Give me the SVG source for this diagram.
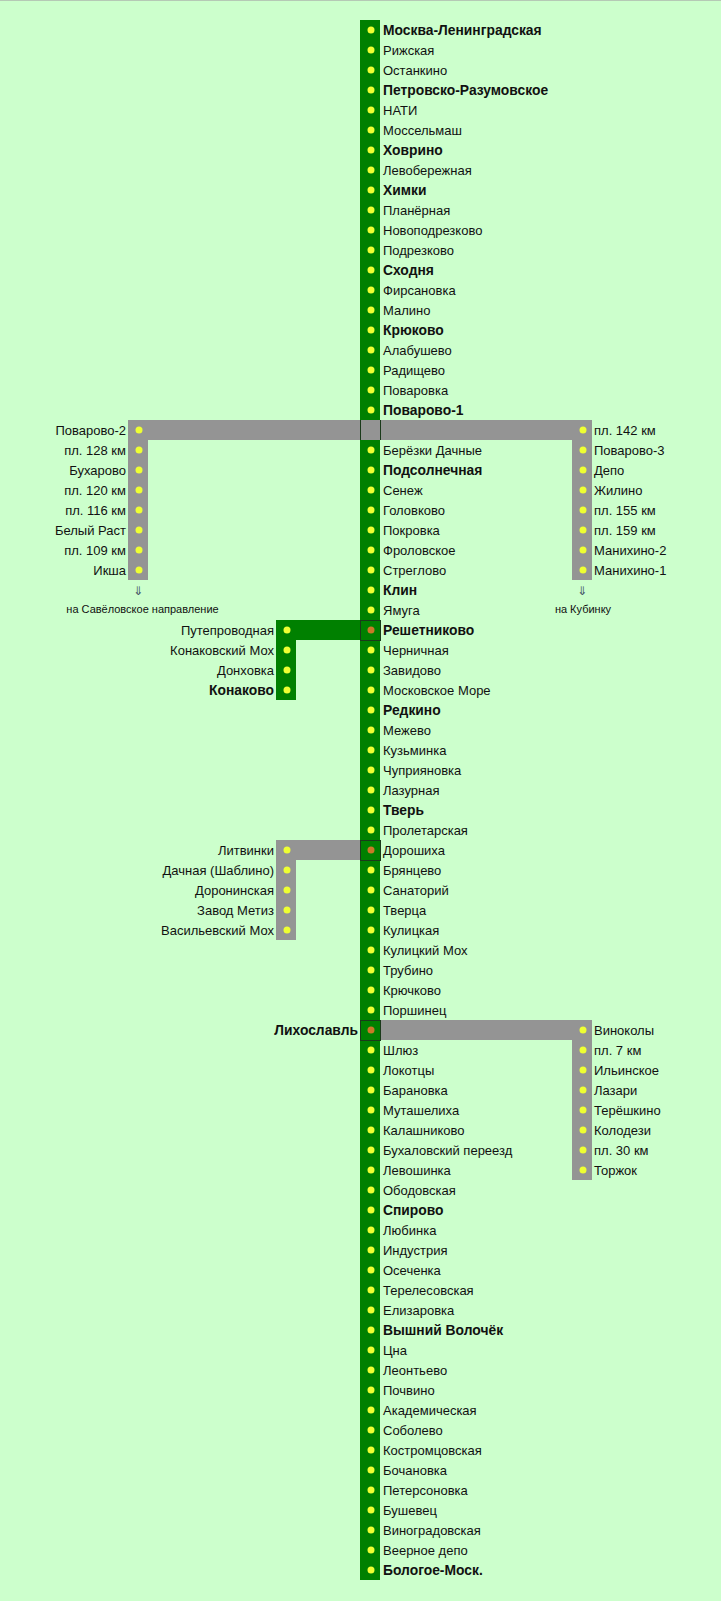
<svg xmlns="http://www.w3.org/2000/svg" width="721" height="1601" viewBox="0 0 721 1601">
<style>
text{font-family:"Liberation Sans",Arial,sans-serif;font-size:13px;fill:#111}
.b{font-weight:bold;font-size:13.850px}
.r{text-anchor:end}
.s{font-size:11px;text-anchor:middle}
.a{font-family:"DejaVu Sans",sans-serif;font-size:12px;text-anchor:middle;fill:#456}
.d{fill:#eeff33}
.o{fill:#c87a28}
.g{fill:#949494}
.m{fill:#008000}
.x{stroke:#1a3a1a;stroke-width:1}
</style>
<rect width="721" height="1601" fill="#ccffcc"/>
<rect width="721" height="1" fill="#b5c9b5"/>
<g id="connectors">
<rect class="m" x="360" y="20" width="20" height="1560"/>
<path class="g" d="M128 420H592V580H572V440H148V580H128Z"/>
<path class="m" d="M276 620H360V640H296V700H276Z"/>
<path class="g" d="M276 840H360V860H296V940H276Z"/>
<path class="g" d="M380 1020H592V1180H572V1040H380Z"/>
<path class="x" fill="none" d="M360.500 420V440M380.500 420V440"/>
<rect class="x m" x="360.500" y="620.500" width="20" height="20"/>
<rect class="x m" x="360.500" y="840.500" width="20" height="20"/>
<rect class="x m" x="360.500" y="1020.500" width="20" height="20"/>
</g>
<g id="n1"><circle class="d" cx="371" cy="30" r="3.500"/><text class="b" x="383" y="35">Москва-Ленинградская</text></g>
<g id="n2"><circle class="d" cx="371" cy="50" r="3.500"/><text x="383" y="55">Рижская</text></g>
<g id="n3"><circle class="d" cx="371" cy="70" r="3.500"/><text x="383" y="75">Останкино</text></g>
<g id="n4"><circle class="d" cx="371" cy="90" r="3.500"/><text class="b" x="383" y="95">Петровско-Разумовское</text></g>
<g id="n5"><circle class="d" cx="371" cy="110" r="3.500"/><text x="383" y="115">НАТИ</text></g>
<g id="n6"><circle class="d" cx="371" cy="130" r="3.500"/><text x="383" y="135">Моссельмаш</text></g>
<g id="n7"><circle class="d" cx="371" cy="150" r="3.500"/><text class="b" x="383" y="155">Ховрино</text></g>
<g id="n8"><circle class="d" cx="371" cy="170" r="3.500"/><text x="383" y="175">Левобережная</text></g>
<g id="n9"><circle class="d" cx="371" cy="190" r="3.500"/><text class="b" x="383" y="195">Химки</text></g>
<g id="n10"><circle class="d" cx="371" cy="210" r="3.500"/><text x="383" y="215">Планёрная</text></g>
<g id="n11"><circle class="d" cx="371" cy="230" r="3.500"/><text x="383" y="235">Новоподрезково</text></g>
<g id="n12"><circle class="d" cx="371" cy="250" r="3.500"/><text x="383" y="255">Подрезково</text></g>
<g id="n13"><circle class="d" cx="371" cy="270" r="3.500"/><text class="b" x="383" y="275">Сходня</text></g>
<g id="n14"><circle class="d" cx="371" cy="290" r="3.500"/><text x="383" y="295">Фирсановка</text></g>
<g id="n15"><circle class="d" cx="371" cy="310" r="3.500"/><text x="383" y="315">Малино</text></g>
<g id="n16"><circle class="d" cx="371" cy="330" r="3.500"/><text class="b" x="383" y="335">Крюково</text></g>
<g id="n17"><circle class="d" cx="371" cy="350" r="3.500"/><text x="383" y="355">Алабушево</text></g>
<g id="n18"><circle class="d" cx="371" cy="370" r="3.500"/><text x="383" y="375">Радищево</text></g>
<g id="n19"><circle class="d" cx="371" cy="390" r="3.500"/><text x="383" y="395">Поваровка</text></g>
<g id="n20"><circle class="d" cx="371" cy="410" r="3.500"/><text class="b" x="383" y="415">Поварово-1</text></g>
<g id="n21"><circle class="d" cx="371" cy="450" r="3.500"/><text x="383" y="455">Берёзки Дачные</text></g>
<g id="n22"><circle class="d" cx="371" cy="470" r="3.500"/><text class="b" x="383" y="475">Подсолнечная</text></g>
<g id="n23"><circle class="d" cx="371" cy="490" r="3.500"/><text x="383" y="495">Сенеж</text></g>
<g id="n24"><circle class="d" cx="371" cy="510" r="3.500"/><text x="383" y="515">Головково</text></g>
<g id="n25"><circle class="d" cx="371" cy="530" r="3.500"/><text x="383" y="535">Покровка</text></g>
<g id="n26"><circle class="d" cx="371" cy="550" r="3.500"/><text x="383" y="555">Фроловское</text></g>
<g id="n27"><circle class="d" cx="371" cy="570" r="3.500"/><text x="383" y="575">Стреглово</text></g>
<g id="n28"><circle class="d" cx="371" cy="590" r="3.500"/><text class="b" x="383" y="595">Клин</text></g>
<g id="n29"><circle class="d" cx="371" cy="610" r="3.500"/><text x="383" y="615">Ямуга</text></g>
<g id="n30"><circle class="o" cx="371" cy="630" r="3.500"/><text class="b" x="383" y="635">Решетниково</text></g>
<g id="n31"><circle class="d" cx="371" cy="650" r="3.500"/><text x="383" y="655">Черничная</text></g>
<g id="n32"><circle class="d" cx="371" cy="670" r="3.500"/><text x="383" y="675">Завидово</text></g>
<g id="n33"><circle class="d" cx="371" cy="690" r="3.500"/><text x="383" y="695">Московское Море</text></g>
<g id="n34"><circle class="d" cx="371" cy="710" r="3.500"/><text class="b" x="383" y="715">Редкино</text></g>
<g id="n35"><circle class="d" cx="371" cy="730" r="3.500"/><text x="383" y="735">Межево</text></g>
<g id="n36"><circle class="d" cx="371" cy="750" r="3.500"/><text x="383" y="755">Кузьминка</text></g>
<g id="n37"><circle class="d" cx="371" cy="770" r="3.500"/><text x="383" y="775">Чуприяновка</text></g>
<g id="n38"><circle class="d" cx="371" cy="790" r="3.500"/><text x="383" y="795">Лазурная</text></g>
<g id="n39"><circle class="d" cx="371" cy="810" r="3.500"/><text class="b" x="383" y="815">Тверь</text></g>
<g id="n40"><circle class="d" cx="371" cy="830" r="3.500"/><text x="383" y="835">Пролетарская</text></g>
<g id="n41"><circle class="o" cx="371" cy="850" r="3.500"/><text x="383" y="855">Дорошиха</text></g>
<g id="n42"><circle class="d" cx="371" cy="870" r="3.500"/><text x="383" y="875">Брянцево</text></g>
<g id="n43"><circle class="d" cx="371" cy="890" r="3.500"/><text x="383" y="895">Санаторий</text></g>
<g id="n44"><circle class="d" cx="371" cy="910" r="3.500"/><text x="383" y="915">Тверца</text></g>
<g id="n45"><circle class="d" cx="371" cy="930" r="3.500"/><text x="383" y="935">Кулицкая</text></g>
<g id="n46"><circle class="d" cx="371" cy="950" r="3.500"/><text x="383" y="955">Кулицкий Мох</text></g>
<g id="n47"><circle class="d" cx="371" cy="970" r="3.500"/><text x="383" y="975">Трубино</text></g>
<g id="n48"><circle class="d" cx="371" cy="990" r="3.500"/><text x="383" y="995">Крючково</text></g>
<g id="n49"><circle class="d" cx="371" cy="1010" r="3.500"/><text x="383" y="1015">Поршинец</text></g>
<g id="n50"><circle class="o" cx="371" cy="1030" r="3.500"/><text class="b r" x="358" y="1035">Лихославль</text></g>
<g id="n51"><circle class="d" cx="371" cy="1050" r="3.500"/><text x="383" y="1055">Шлюз</text></g>
<g id="n52"><circle class="d" cx="371" cy="1070" r="3.500"/><text x="383" y="1075">Локотцы</text></g>
<g id="n53"><circle class="d" cx="371" cy="1090" r="3.500"/><text x="383" y="1095">Барановка</text></g>
<g id="n54"><circle class="d" cx="371" cy="1110" r="3.500"/><text x="383" y="1115">Муташелиха</text></g>
<g id="n55"><circle class="d" cx="371" cy="1130" r="3.500"/><text x="383" y="1135">Калашниково</text></g>
<g id="n56"><circle class="d" cx="371" cy="1150" r="3.500"/><text x="383" y="1155">Бухаловский переезд</text></g>
<g id="n57"><circle class="d" cx="371" cy="1170" r="3.500"/><text x="383" y="1175">Левошинка</text></g>
<g id="n58"><circle class="d" cx="371" cy="1190" r="3.500"/><text x="383" y="1195">Ободовская</text></g>
<g id="n59"><circle class="d" cx="371" cy="1210" r="3.500"/><text class="b" x="383" y="1215">Спирово</text></g>
<g id="n60"><circle class="d" cx="371" cy="1230" r="3.500"/><text x="383" y="1235">Любинка</text></g>
<g id="n61"><circle class="d" cx="371" cy="1250" r="3.500"/><text x="383" y="1255">Индустрия</text></g>
<g id="n62"><circle class="d" cx="371" cy="1270" r="3.500"/><text x="383" y="1275">Осеченка</text></g>
<g id="n63"><circle class="d" cx="371" cy="1290" r="3.500"/><text x="383" y="1295">Терелесовская</text></g>
<g id="n64"><circle class="d" cx="371" cy="1310" r="3.500"/><text x="383" y="1315">Елизаровка</text></g>
<g id="n65"><circle class="d" cx="371" cy="1330" r="3.500"/><text class="b" x="383" y="1335">Вышний Волочёк</text></g>
<g id="n66"><circle class="d" cx="371" cy="1350" r="3.500"/><text x="383" y="1355">Цна</text></g>
<g id="n67"><circle class="d" cx="371" cy="1370" r="3.500"/><text x="383" y="1375">Леонтьево</text></g>
<g id="n68"><circle class="d" cx="371" cy="1390" r="3.500"/><text x="383" y="1395">Почвино</text></g>
<g id="n69"><circle class="d" cx="371" cy="1410" r="3.500"/><text x="383" y="1415">Академическая</text></g>
<g id="n70"><circle class="d" cx="371" cy="1430" r="3.500"/><text x="383" y="1435">Соболево</text></g>
<g id="n71"><circle class="d" cx="371" cy="1450" r="3.500"/><text x="383" y="1455">Костромцовская</text></g>
<g id="n72"><circle class="d" cx="371" cy="1470" r="3.500"/><text x="383" y="1475">Бочановка</text></g>
<g id="n73"><circle class="d" cx="371" cy="1490" r="3.500"/><text x="383" y="1495">Петерсоновка</text></g>
<g id="n74"><circle class="d" cx="371" cy="1510" r="3.500"/><text x="383" y="1515">Бушевец</text></g>
<g id="n75"><circle class="d" cx="371" cy="1530" r="3.500"/><text x="383" y="1535">Виноградовская</text></g>
<g id="n76"><circle class="d" cx="371" cy="1550" r="3.500"/><text x="383" y="1555">Веерное депо</text></g>
<g id="n77"><circle class="d" cx="371" cy="1570" r="3.500"/><text class="b" x="383" y="1575">Бологое-Моск.</text></g>
<g id="l1"><circle class="d" cx="139" cy="430" r="3.500"/><text class="r" x="126" y="435">Поварово-2</text></g>
<g id="l2"><circle class="d" cx="139" cy="450" r="3.500"/><text class="r" x="126" y="455">пл. 128 км</text></g>
<g id="l3"><circle class="d" cx="139" cy="470" r="3.500"/><text class="r" x="126" y="475">Бухарово</text></g>
<g id="l4"><circle class="d" cx="139" cy="490" r="3.500"/><text class="r" x="126" y="495">пл. 120 км</text></g>
<g id="l5"><circle class="d" cx="139" cy="510" r="3.500"/><text class="r" x="126" y="515">пл. 116 км</text></g>
<g id="l6"><circle class="d" cx="139" cy="530" r="3.500"/><text class="r" x="126" y="535">Белый Раст</text></g>
<g id="l7"><circle class="d" cx="139" cy="550" r="3.500"/><text class="r" x="126" y="555">пл. 109 км</text></g>
<g id="l8"><circle class="d" cx="139" cy="570" r="3.500"/><text class="r" x="126" y="575">Икша</text></g>
<g id="r1"><circle class="d" cx="583" cy="430" r="3.500"/><text x="594" y="435">пл. 142 км</text></g>
<g id="r2"><circle class="d" cx="583" cy="450" r="3.500"/><text x="594" y="455">Поварово-3</text></g>
<g id="r3"><circle class="d" cx="583" cy="470" r="3.500"/><text x="594" y="475">Депо</text></g>
<g id="r4"><circle class="d" cx="583" cy="490" r="3.500"/><text x="594" y="495">Жилино</text></g>
<g id="r5"><circle class="d" cx="583" cy="510" r="3.500"/><text x="594" y="515">пл. 155 км</text></g>
<g id="r6"><circle class="d" cx="583" cy="530" r="3.500"/><text x="594" y="535">пл. 159 км</text></g>
<g id="r7"><circle class="d" cx="583" cy="550" r="3.500"/><text x="594" y="555">Манихино-2</text></g>
<g id="r8"><circle class="d" cx="583" cy="570" r="3.500"/><text x="594" y="575">Манихино-1</text></g>
<g id="k1"><circle class="d" cx="287" cy="630" r="3.500"/><text class="r" x="274" y="635">Путепроводная</text></g>
<g id="k2"><circle class="d" cx="287" cy="650" r="3.500"/><text class="r" x="274" y="655">Конаковский Мох</text></g>
<g id="k3"><circle class="d" cx="287" cy="670" r="3.500"/><text class="r" x="274" y="675">Донховка</text></g>
<g id="k4"><circle class="d" cx="287" cy="690" r="3.500"/><text class="b r" x="274" y="695">Конаково</text></g>
<g id="v1"><circle class="d" cx="287" cy="850" r="3.500"/><text class="r" x="274" y="855">Литвинки</text></g>
<g id="v2"><circle class="d" cx="287" cy="870" r="3.500"/><text class="r" x="274" y="875">Дачная (Шаблино)</text></g>
<g id="v3"><circle class="d" cx="287" cy="890" r="3.500"/><text class="r" x="274" y="895">Доронинская</text></g>
<g id="v4"><circle class="d" cx="287" cy="910" r="3.500"/><text class="r" x="274" y="915">Завод Метиз</text></g>
<g id="v5"><circle class="d" cx="287" cy="930" r="3.500"/><text class="r" x="274" y="935">Васильевский Мох</text></g>
<g id="t1"><circle class="d" cx="583" cy="1030" r="3.500"/><text x="594" y="1035">Виноколы</text></g>
<g id="t2"><circle class="d" cx="583" cy="1050" r="3.500"/><text x="594" y="1055">пл. 7 км</text></g>
<g id="t3"><circle class="d" cx="583" cy="1070" r="3.500"/><text x="594" y="1075">Ильинское</text></g>
<g id="t4"><circle class="d" cx="583" cy="1090" r="3.500"/><text x="594" y="1095">Лазари</text></g>
<g id="t5"><circle class="d" cx="583" cy="1110" r="3.500"/><text x="594" y="1115">Терёшкино</text></g>
<g id="t6"><circle class="d" cx="583" cy="1130" r="3.500"/><text x="594" y="1135">Колодези</text></g>
<g id="t7"><circle class="d" cx="583" cy="1150" r="3.500"/><text x="594" y="1155">пл. 30 км</text></g>
<g id="t8"><circle class="d" cx="583" cy="1170" r="3.500"/><text x="594" y="1175">Торжок</text></g>
<g id="notes">
<text class="a" x="138" y="595">⇓</text>
<text class="s" x="142.500" y="613">на Савёловское направление</text>
<text class="a" x="582" y="595">⇓</text>
<text class="s" x="583" y="613">на Кубинку</text>
</g>
</svg>
